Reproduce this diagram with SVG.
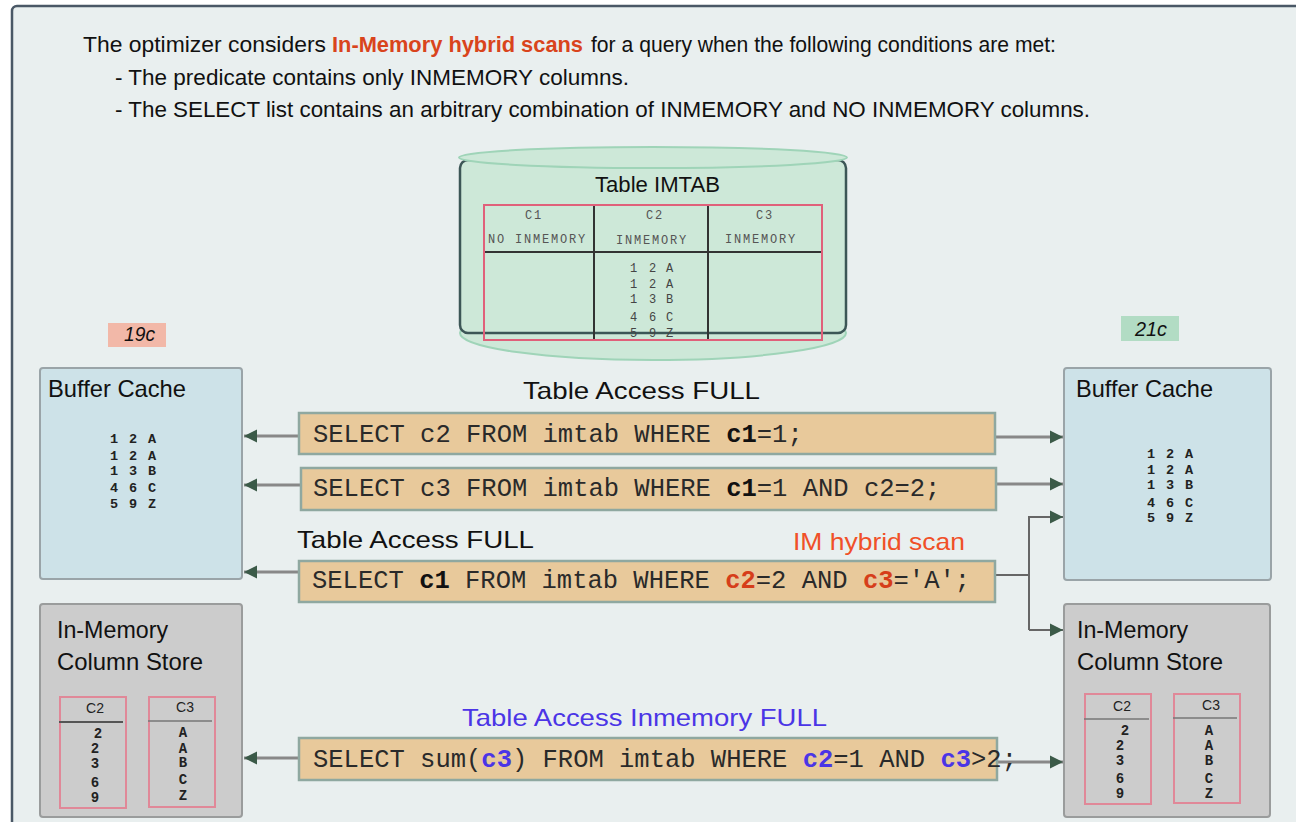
<svg xmlns="http://www.w3.org/2000/svg" width="1296" height="822" viewBox="0 0 1296 822">
  <defs>
    <style>
      .sans { font-family: "Liberation Sans", Arial, sans-serif; fill: #111; }
      .head { font-size: 22px; }
      .lbl { font-size: 24px; }
      .title { font-size: 24px; }
      .tag { font-size: 20px; font-style: italic; }
      .sql { font-family: "Liberation Mono", "Courier New", monospace; font-size: 25.5px; fill: #2a2a2a; }
      .sqlbox { fill: #e8c99b; stroke: #8fa8a0; stroke-width: 2.5; }
      .b { font-weight: bold; fill: #111; }
      .red { fill: #d63e1a; font-weight: bold; }
      .blue { fill: #4b35e6; font-weight: bold; }
      .tbl { font-family: "Liberation Mono", "Courier New", monospace; font-size: 12px; fill: #555; letter-spacing: 1.8px; }
      .rows { font-family: "Liberation Mono", "Courier New", monospace; font-size: 12px; fill: #444; }
      .cache { fill: #cde2e8; stroke: #9aa4a8; stroke-width: 2; }
      .imcs { fill: #cccccc; stroke: #9a9c9c; stroke-width: 2; }
      .data { font-family: "Liberation Mono", "Courier New", monospace; font-size: 13.5px; font-weight: bold; fill: #222; }
      .col { fill: none; stroke: #e08898; stroke-width: 2; }
      .colhead { font-family: "Liberation Sans", Arial, sans-serif; font-size: 14px; fill: #222; text-anchor: middle; }
      .colval { font-family: "Liberation Mono", "Courier New", monospace; font-size: 14px; font-weight: bold; fill: #222; text-anchor: middle; }
      .rule { stroke: #555; stroke-width: 2; }
      .conn { fill: none; stroke: #888; stroke-width: 3; }
      .conn2 { fill: none; stroke: #666; stroke-width: 2; }
    </style>
    <marker id="arrow" markerUnits="userSpaceOnUse" markerWidth="14" markerHeight="14" refX="13" refY="7" orient="auto">
      <path d="M0,0.5 L13,7 L0,13.5 z" fill="#3b5a48"/>
    </marker>
  </defs>

  <!-- page frame -->
  <rect x="0" y="0" width="1296" height="822" fill="#ffffff"/>
  <rect x="12" y="6" width="1300" height="830" rx="5" fill="#e9efef" stroke="#4a5866" stroke-width="2.5"/>

  <!-- intro text -->
  <g id="intro">
    <text class="sans head" x="83" y="52" textLength="243" lengthAdjust="spacingAndGlyphs">The optimizer considers</text>
    <text class="sans head b" x="332" y="52" textLength="251" lengthAdjust="spacingAndGlyphs" style="fill:#d9441c">In-Memory hybrid scans</text>
    <text class="sans head" x="591" y="52" textLength="465" lengthAdjust="spacingAndGlyphs">for a query when the following conditions are met:</text>
    <text class="sans head" x="115" y="85" textLength="514" lengthAdjust="spacingAndGlyphs">- The predicate contains only INMEMORY columns.</text>
    <text class="sans head" x="115" y="117" textLength="975" lengthAdjust="spacingAndGlyphs">- The SELECT list contains an arbitrary combination of INMEMORY and NO INMEMORY columns.</text>
  </g>

  <!-- table cylinder -->
  <g id="table-imtab">
    <ellipse cx="653" cy="333" rx="193" ry="27" fill="#cde8d8" stroke="#9fd4b8" stroke-width="2"/>
    <rect x="460" y="160" width="386" height="173" rx="8" fill="#cde8d8" stroke="#3c5656" stroke-width="2.5"/>
    <ellipse cx="653" cy="157.5" rx="194" ry="10.5" fill="#cde8d8" stroke="#9fd4b8" stroke-width="2"/>
    <text class="sans" x="595" y="192" font-size="22" textLength="125" lengthAdjust="spacingAndGlyphs">Table IMTAB</text>
    <line x1="484" y1="252" x2="822" y2="252" stroke="#333" stroke-width="2"/>
    <line x1="594" y1="205" x2="594" y2="340" stroke="#333" stroke-width="2"/>
    <line x1="708" y1="205" x2="708" y2="340" stroke="#333" stroke-width="2"/>
    <text class="tbl" x="534" y="219" text-anchor="middle">C1</text>
    <text class="tbl" x="488" y="243">NO INMEMORY</text>
    <text class="tbl" x="655" y="219" text-anchor="middle">C2</text>
    <text class="tbl" x="616" y="244">INMEMORY</text>
    <text class="tbl" x="765" y="219" text-anchor="middle">C3</text>
    <text class="tbl" x="725" y="243">INMEMORY</text>
    <text class="rows" x="630 649 666" y="272">12A</text>
    <text class="rows" x="630 649 666" y="288">12A</text>
    <text class="rows" x="630 649 666" y="303">13B</text>
    <text class="rows" x="630 649 666" y="321">46C</text>
    <text class="rows" x="630 649 666" y="337">59Z</text>
    <rect x="484" y="205" width="338" height="135" fill="none" stroke="#e0607a" stroke-width="2"/>
  </g>

  <!-- version tags -->
  <g id="tag-19c">
    <rect x="108" y="323" width="58" height="24" fill="#f2b8a8"/>
    <text class="sans tag" x="124" y="341" textLength="31" lengthAdjust="spacingAndGlyphs">19c</text>
  </g>
  <g id="tag-21c">
    <rect x="1121" y="316" width="58" height="25" fill="#b2dcc4"/>
    <text class="sans tag" x="1135" y="336" textLength="32" lengthAdjust="spacingAndGlyphs">21c</text>
  </g>

  <!-- 19c buffer cache -->
  <g id="buffer-cache-19c">
    <rect class="cache" x="40" y="368" width="202" height="211" rx="3"/>
    <text class="sans title" x="48" y="397" textLength="138" lengthAdjust="spacingAndGlyphs">Buffer Cache</text>
    <text class="data" x="110 129 148" y="443">12A</text>
    <text class="data" x="110 129 148" y="460">12A</text>
    <text class="data" x="110 129 148" y="475">13B</text>
    <text class="data" x="110 129 148" y="492">46C</text>
    <text class="data" x="110 129 148" y="508">59Z</text>
  </g>

  <!-- 21c buffer cache -->
  <g id="buffer-cache-21c">
    <rect class="cache" x="1064" y="368" width="207" height="212" rx="3"/>
    <text class="sans title" x="1076" y="397" textLength="137" lengthAdjust="spacingAndGlyphs">Buffer Cache</text>
    <text class="data" x="1147 1166 1185" y="458">12A</text>
    <text class="data" x="1147 1166 1185" y="474">12A</text>
    <text class="data" x="1147 1166 1185" y="489">13B</text>
    <text class="data" x="1147 1166 1185" y="507">46C</text>
    <text class="data" x="1147 1166 1185" y="522">59Z</text>
  </g>

  <!-- 19c in-memory column store -->
  <g id="imcs-19c">
    <rect class="imcs" x="40" y="604" width="202" height="213" rx="3"/>
    <text class="sans title" x="57" y="638" textLength="111" lengthAdjust="spacingAndGlyphs">In-Memory</text>
    <text class="sans title" x="57" y="670" textLength="146" lengthAdjust="spacingAndGlyphs">Column Store</text>
    <rect class="col" x="60" y="697" width="66" height="111"/>
    <text class="colhead" x="95" y="713">C2</text>
    <line class="rule" x1="59" y1="722" x2="123" y2="722"/>
    <text class="colval" x="98" y="738">2</text>
    <text class="colval" x="95" y="753">2</text>
    <text class="colval" x="95" y="768">3</text>
    <text class="colval" x="95" y="787">6</text>
    <text class="colval" x="95" y="802">9</text>
    <rect class="col" x="149" y="697" width="66" height="110"/>
    <text class="colhead" x="185" y="712">C3</text>
    <line x1="148" y1="721" x2="212" y2="721" stroke="#777" stroke-width="1.5"/>
    <text class="colval" x="183" y="737">A</text>
    <text class="colval" x="183" y="753">A</text>
    <text class="colval" x="183" y="767">B</text>
    <text class="colval" x="183" y="784">C</text>
    <text class="colval" x="183" y="800">Z</text>
  </g>

  <!-- 21c in-memory column store -->
  <g id="imcs-21c">
    <rect class="imcs" x="1064" y="604" width="206" height="213" rx="3"/>
    <text class="sans title" x="1077" y="638" textLength="111" lengthAdjust="spacingAndGlyphs">In-Memory</text>
    <text class="sans title" x="1077" y="670" textLength="146" lengthAdjust="spacingAndGlyphs">Column Store</text>
    <rect class="col" x="1085" y="694" width="66" height="110"/>
    <text class="colhead" x="1122" y="711">C2</text>
    <line x1="1084" y1="719" x2="1149" y2="719" stroke="#777" stroke-width="1.5"/>
    <text class="colval" x="1125" y="735">2</text>
    <text class="colval" x="1120" y="750">2</text>
    <text class="colval" x="1120" y="765">3</text>
    <text class="colval" x="1120" y="783">6</text>
    <text class="colval" x="1120" y="798">9</text>
    <rect class="col" x="1174" y="694" width="66" height="109"/>
    <text class="colhead" x="1211" y="710">C3</text>
    <line x1="1173" y1="718" x2="1237" y2="718" stroke="#777" stroke-width="1.5"/>
    <text class="colval" x="1209" y="735">A</text>
    <text class="colval" x="1209" y="750">A</text>
    <text class="colval" x="1209" y="765">B</text>
    <text class="colval" x="1209" y="783">C</text>
    <text class="colval" x="1209" y="798">Z</text>
  </g>

  <!-- connectors -->
  <g id="connectors">
    <line class="conn" x1="299" y1="436" x2="244" y2="436" marker-end="url(#arrow)"/>
    <line class="conn" x1="301" y1="485" x2="244" y2="485" marker-end="url(#arrow)"/>
    <line class="conn" x1="299" y1="572" x2="244" y2="572" marker-end="url(#arrow)"/>
    <line class="conn" x1="299" y1="758" x2="244" y2="758" marker-end="url(#arrow)"/>
    <line class="conn" x1="995" y1="437" x2="1063" y2="437" marker-end="url(#arrow)"/>
    <line class="conn" x1="996" y1="484" x2="1063" y2="484" marker-end="url(#arrow)"/>
    <polyline class="conn2" points="995,575 1029,575"/>
    <polyline class="conn2" points="1029,630 1029,517 1063,517" marker-end="url(#arrow)"/>
    <line class="conn2" x1="1029" y1="630" x2="1063" y2="630" marker-end="url(#arrow)"/>
    <line class="conn" x1="997" y1="762" x2="1063" y2="762" marker-end="url(#arrow)"/>
  </g>

  <!-- query 1 -->
  <g id="query-1">
    <text class="sans lbl" x="523" y="399" textLength="237" lengthAdjust="spacingAndGlyphs">Table Access FULL</text>
    <rect class="sqlbox" x="299" y="413" width="696" height="41"/>
    <text class="sql" x="313" y="442">SELECT c2 FROM imtab WHERE <tspan class="b">c1</tspan>=1;</text>
  </g>

  <!-- query 2 -->
  <g id="query-2">
    <rect class="sqlbox" x="301" y="468" width="695" height="42"/>
    <text class="sql" x="313" y="496">SELECT c3 FROM imtab WHERE <tspan class="b">c1</tspan>=1 AND c2=2;</text>
  </g>

  <!-- query 3 -->
  <g id="query-3">
    <text class="sans lbl" x="297" y="548" textLength="237" lengthAdjust="spacingAndGlyphs">Table Access FULL</text>
    <text class="sans lbl" x="793" y="550" textLength="172" lengthAdjust="spacingAndGlyphs" style="fill:#f05028">IM hybrid scan</text>
    <rect class="sqlbox" x="299" y="561" width="696" height="41"/>
    <text class="sql" x="312" y="588">SELECT <tspan class="b">c1</tspan> FROM imtab WHERE <tspan class="red">c2</tspan>=2 AND <tspan class="red">c3</tspan>='A';</text>
  </g>

  <!-- query 4 -->
  <g id="query-4">
    <text class="sans lbl" x="462" y="726" textLength="365" lengthAdjust="spacingAndGlyphs" style="fill:#4b35e6">Table Access Inmemory FULL</text>
    <rect class="sqlbox" x="299" y="738" width="698" height="42"/>
    <text class="sql" x="313" y="767">SELECT sum(<tspan class="blue">c3</tspan>) FROM imtab WHERE <tspan class="blue">c2</tspan>=1 AND <tspan class="blue">c3</tspan>&gt;2;</text>
  </g>
</svg>
